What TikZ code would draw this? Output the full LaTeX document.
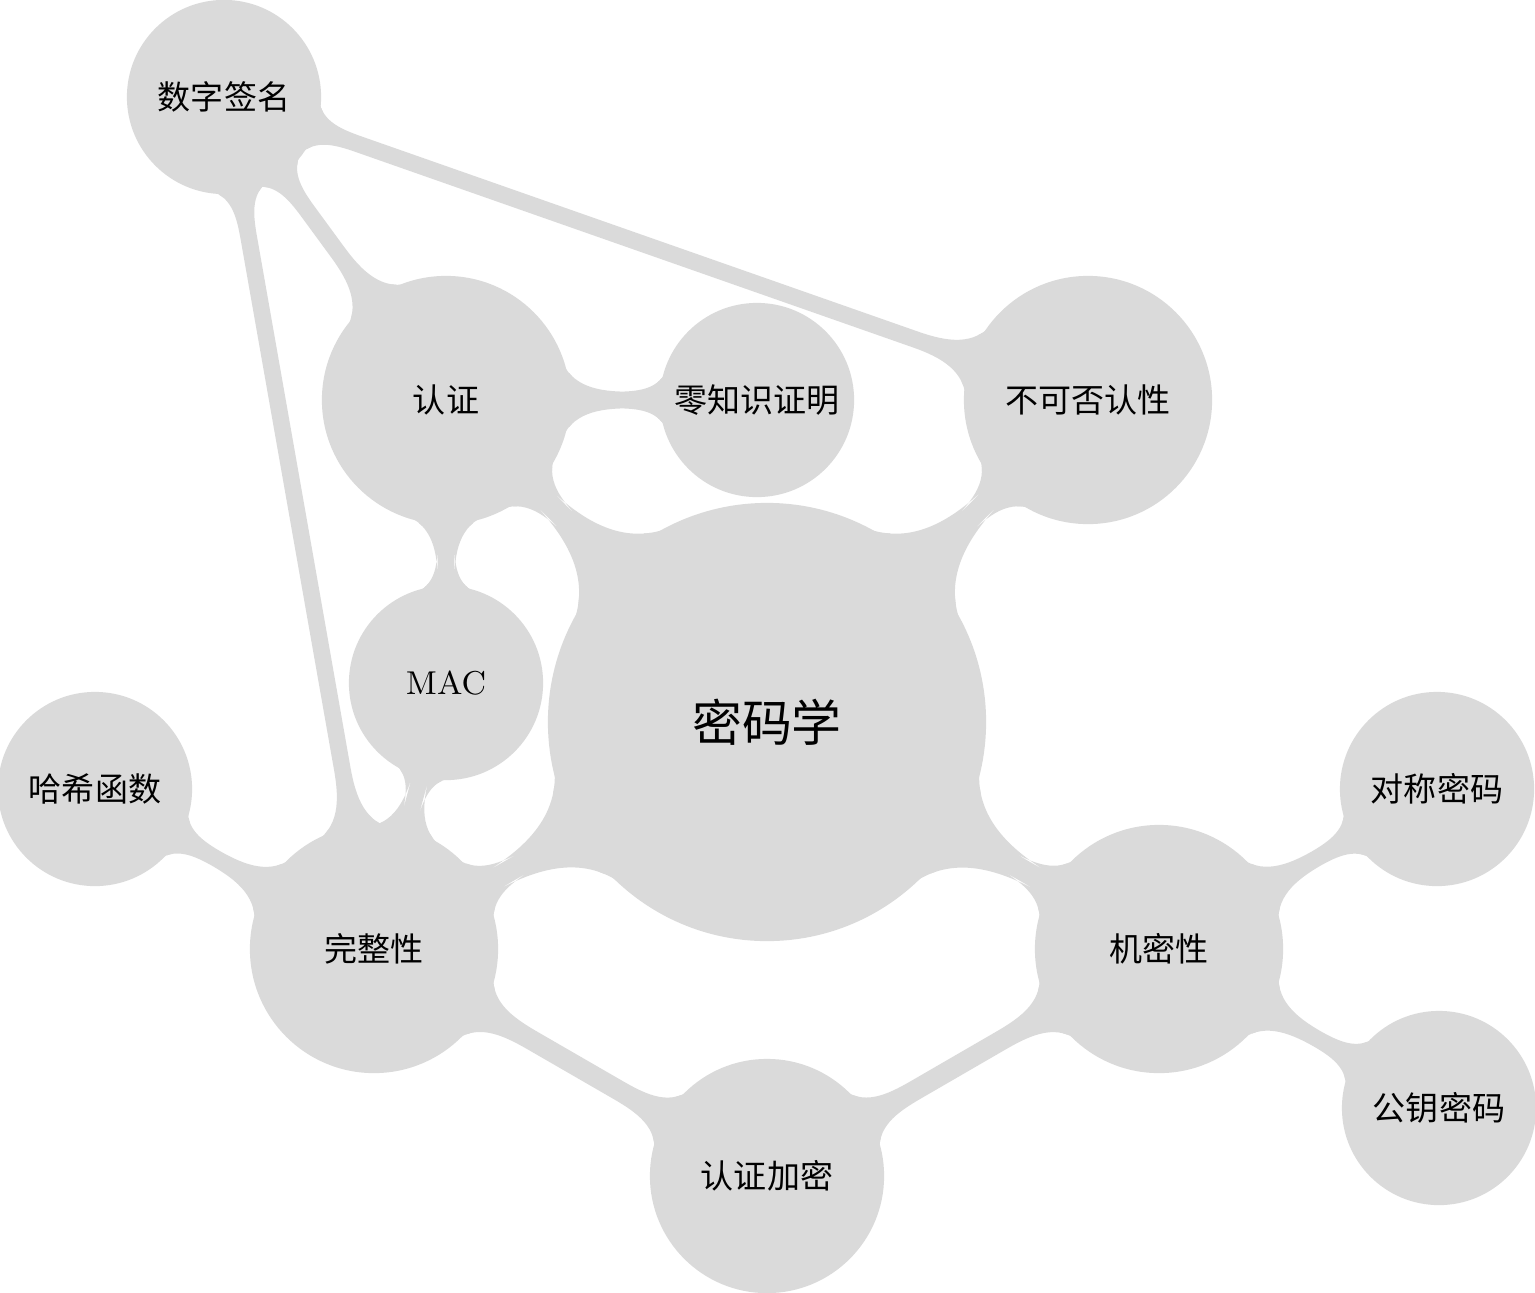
\documentclass[tikz,border=0pt]{standalone}
\usepackage{fontspec}
\newfontfamily\cjk{Noto Sans CJK SC}
\usetikzlibrary{mindmap}
\pgfdeclarelayer{background}
\pgfsetlayers{background,main}
\definecolor{bub}{HTML}{DADADA}
\begin{document}
\begin{tikzpicture}[x=0.1mm,y=-0.1mm,mindmap,concept color=bub,
  every node/.style={concept,text=black,font=\cjk\fontsize{9.4}{11}\selectfont,inner sep=0pt,text width=},
  big/.style={minimum size=43.4mm},
  mid/.style={minimum size=24.4mm},
  sml/.style={minimum size=19mm},
  ae/.style={minimum size=23mm},
  bar/.style={circle connection bar switch color=from (bub) to (bub)}]
\useasboundingbox (0,0) rectangle (1535,1292);
\node[big,font=\cjk\fontsize{14.2}{17}\selectfont] (root) at (767,722) {密码学};
\node[sml] (sig) at (224,97) {数字签名};
\node[mid] (auth) at (446,400) {认证};
\node[sml] (zkp) at (757,400) {零知识证明};
\node[mid] (nonrep) at (1088,400) {不可否认性};
\node[sml,font=\rmfamily\fontsize{9.4}{11}\selectfont] (mac) at (446,683) {MAC};
\node[sml] (hash) at (95,789) {哈希函数};
\node[mid] (integ) at (374,949) {完整性};
\node[mid] (conf) at (1159,949) {机密性};
\node[sml] (sym) at (1437,789) {对称密码};
\node[sml] (pub) at (1439,1108) {公钥密码};
\node[ae] (authenc) at (767,1176) {认证加密};
\begin{pgfonlayer}{background}
\path (sig) to[bar] (nonrep);
\path (sig) to[bar] (auth);
\path (sig) to[bar] (integ);
\path (auth) to[bar] (zkp);
\path (auth) to[bar] (mac);
\path (auth) to[bar] (root);
\path (nonrep) to[bar] (root);
\path (mac) to[bar] (integ);
\path (hash) to[bar] (integ);
\path (integ) to[bar] (root);
\path (integ) to[bar] (authenc);
\path (root) to[bar] (conf);
\path (conf) to[bar] (sym);
\path (conf) to[bar] (pub);
\path (conf) to[bar] (authenc);
\end{pgfonlayer}
\end{tikzpicture}
\end{document}
